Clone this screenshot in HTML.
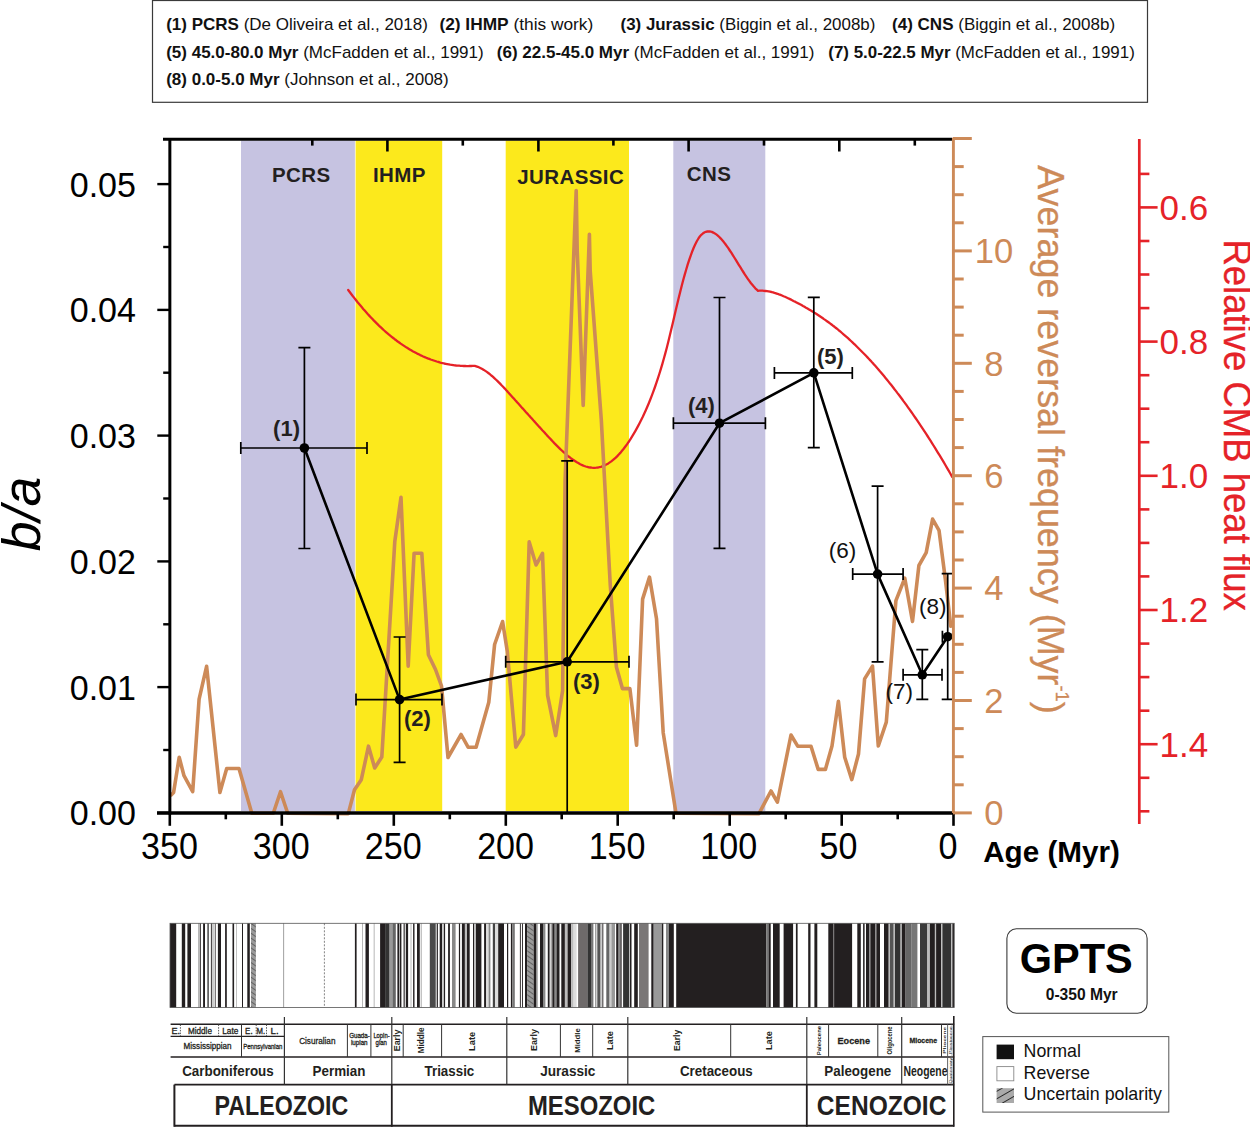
<!DOCTYPE html>
<html><head><meta charset="utf-8"><title>b/a vs age</title>
<style>
html,body{margin:0;padding:0;background:#fff;}
body{width:1250px;height:1127px;overflow:hidden;}
svg{display:block;font-family:"Liberation Sans", sans-serif;}
text{font-family:"Liberation Sans", sans-serif;}
</style></head><body>
<svg width="1250" height="1127" viewBox="0 0 1250 1127">
<rect width="1250" height="1127" fill="#fff"/>
<rect x="152.5" y="0.5" width="995" height="101.8" fill="none" stroke="#3a3a3a" stroke-width="1.2"/>
<text x="166.2" y="30.2" font-size="17" fill="#111"><tspan font-weight="bold">(1) PCRS</tspan><tspan xml:space="preserve"> (De Oliveira et al., 2018)</tspan></text>
<text x="439.4" y="30.2" font-size="17" fill="#111" textLength="153.9" lengthAdjust="spacingAndGlyphs"><tspan font-weight="bold">(2) IHMP</tspan><tspan xml:space="preserve"> (this work)</tspan></text>
<text x="620.5" y="30.2" font-size="17" fill="#111" textLength="254.9" lengthAdjust="spacingAndGlyphs"><tspan font-weight="bold">(3) Jurassic</tspan><tspan xml:space="preserve"> (Biggin et al., 2008b)</tspan></text>
<text x="892.1" y="30.2" font-size="17" fill="#111"><tspan font-weight="bold">(4) CNS</tspan><tspan xml:space="preserve"> (Biggin et al., 2008b)</tspan></text>
<text x="166.2" y="57.6" font-size="17" fill="#111"><tspan font-weight="bold">(5) 45.0-80.0 Myr</tspan><tspan xml:space="preserve"> (McFadden et al., 1991)</tspan></text>
<text x="496.8" y="57.6" font-size="17" fill="#111"><tspan font-weight="bold">(6) 22.5-45.0 Myr</tspan><tspan xml:space="preserve"> (McFadden et al., 1991)</tspan></text>
<text x="828.3" y="57.6" font-size="17" fill="#111" textLength="306.5" lengthAdjust="spacingAndGlyphs"><tspan font-weight="bold">(7) 5.0-22.5 Myr</tspan><tspan xml:space="preserve"> (McFadden et al., 1991)</tspan></text>
<text x="166.2" y="85.0" font-size="17" fill="#111"><tspan font-weight="bold">(8) 0.0-5.0 Myr</tspan><tspan xml:space="preserve"> (Johnson et al., 2008)</tspan></text>
<rect x="241.0" y="140.5" width="113.9" height="670.5" fill="#c6c3e1"/>
<rect x="355.6" y="140.5" width="86.6" height="670.5" fill="#fce91c"/>
<rect x="505.7" y="140.5" width="123.3" height="670.5" fill="#fce91c"/>
<rect x="673.3" y="140.5" width="92.0" height="670.5" fill="#c6c3e1"/>
<text x="272.0" y="182.2" font-size="20.5" font-weight="bold" fill="#231f20" letter-spacing="0.4">PCRS</text>
<text x="373.0" y="182.2" font-size="20.5" font-weight="bold" fill="#231f20" letter-spacing="0.4">IHMP</text>
<text x="517.3" y="183.8" font-size="20.5" font-weight="bold" fill="#231f20" letter-spacing="0.4">JURASSIC</text>
<text x="686.8" y="181.0" font-size="20.5" font-weight="bold" fill="#231f20" letter-spacing="0.4">CNS</text>
<path d="M348.2,290.0 L349.7,292.0 L351.2,294.0 L352.7,296.0 L354.2,297.9 L355.7,299.8 L357.2,301.7 L358.7,303.5 L360.2,305.3 L361.7,307.1 L363.2,308.9 L364.7,310.6 L366.2,312.3 L367.7,314.0 L369.2,315.6 L370.7,317.2 L372.2,318.8 L373.7,320.4 L375.2,321.9 L376.7,323.4 L378.2,324.9 L379.7,326.3 L381.2,327.7 L382.7,329.1 L384.2,330.5 L385.7,331.8 L387.2,333.1 L388.7,334.4 L390.2,335.6 L391.7,336.8 L393.2,338.0 L394.7,339.2 L396.2,340.3 L397.7,341.5 L399.2,342.5 L400.7,343.6 L402.2,344.6 L403.7,345.6 L405.2,346.6 L406.7,347.6 L408.2,348.5 L409.7,349.4 L411.2,350.3 L412.7,351.2 L414.2,352.0 L415.7,352.8 L417.2,353.6 L418.7,354.3 L420.2,355.1 L421.7,355.8 L423.2,356.5 L424.7,357.1 L426.2,357.7 L427.7,358.4 L429.2,358.9 L430.7,359.5 L432.2,360.0 L433.7,360.5 L435.2,361.0 L436.7,361.5 L438.2,361.9 L439.7,362.4 L441.2,362.8 L442.7,363.1 L444.2,363.5 L445.7,363.8 L447.2,364.1 L448.7,364.4 L450.2,364.7 L451.7,364.9 L453.2,365.1 L454.7,365.3 L456.2,365.5 L457.7,365.6 L459.2,365.7 L460.7,365.8 L462.2,365.9 L463.7,366.0 L465.2,366.0 L466.7,366.1 L468.2,366.1 L469.7,366.0 L471.2,366.0 L472.7,365.9 L474.2,365.8 L474.8,365.8 L476.3,366.3 L477.8,366.8 L479.3,367.5 L480.8,368.2 L482.3,369.0 L483.8,369.9 L485.3,370.9 L486.8,371.9 L488.3,373.0 L489.8,374.2 L491.3,375.5 L492.8,376.7 L494.3,378.1 L495.8,379.5 L497.3,380.9 L498.8,382.4 L500.3,383.9 L501.8,385.5 L503.3,387.0 L504.8,388.6 L506.3,390.3 L507.8,391.9 L509.3,393.6 L510.8,395.2 L512.3,396.9 L513.8,398.6 L515.3,400.3 L516.8,401.9 L518.3,403.6 L519.8,405.3 L521.3,407.0 L522.8,408.6 L524.3,410.3 L525.8,412.0 L527.3,413.6 L528.8,415.3 L530.3,416.9 L531.8,418.6 L533.3,420.3 L534.8,421.9 L536.3,423.6 L537.8,425.2 L539.3,426.9 L540.8,428.5 L542.3,430.2 L543.8,431.8 L545.3,433.4 L546.8,435.1 L548.3,436.7 L549.8,438.3 L551.3,439.9 L552.8,441.5 L554.3,443.1 L555.8,444.6 L557.3,446.1 L558.8,447.6 L560.3,449.1 L561.8,450.5 L563.3,451.9 L564.8,453.2 L566.3,454.5 L567.8,455.8 L569.3,457.0 L570.8,458.2 L572.3,459.3 L573.8,460.3 L575.3,461.3 L576.8,462.3 L578.3,463.1 L579.8,464.0 L581.3,464.7 L582.8,465.4 L584.3,466.0 L585.8,466.5 L587.3,466.9 L588.8,467.3 L590.3,467.5 L591.8,467.7 L593.3,467.8 L594.8,467.8 L596.3,467.7 L597.8,467.5 L599.3,467.2 L600.8,466.8 L602.3,466.3 L603.8,465.8 L605.3,465.1 L606.8,464.3 L608.3,463.4 L609.8,462.4 L611.3,461.4 L612.8,460.2 L614.3,458.9 L615.8,457.6 L617.3,456.1 L618.8,454.5 L620.3,452.9 L621.8,451.1 L623.3,449.3 L624.8,447.3 L626.3,445.3 L627.8,443.2 L629.3,441.0 L630.8,438.6 L632.3,436.2 L633.8,433.7 L635.3,431.1 L636.8,428.4 L638.3,425.6 L639.8,422.7 L641.3,419.7 L642.8,416.7 L644.3,413.5 L645.8,410.2 L647.3,406.7 L648.8,403.2 L650.3,399.5 L651.8,395.7 L653.3,391.7 L654.8,387.5 L656.3,383.2 L657.8,378.7 L659.3,374.0 L660.8,369.2 L662.3,364.1 L663.8,358.8 L665.3,353.4 L666.8,347.7 L668.3,341.7 L669.8,335.6 L671.3,329.3 L672.8,322.9 L674.3,316.5 L675.8,310.1 L677.3,303.7 L678.8,297.5 L680.3,291.4 L681.8,285.5 L683.3,279.8 L684.8,274.4 L686.3,269.2 L687.8,264.2 L689.3,259.6 L690.8,255.3 L692.3,251.2 L693.8,247.5 L695.3,244.2 L696.8,241.3 L698.3,238.7 L699.8,236.5 L701.3,234.8 L702.8,233.5 L704.3,232.5 L705.8,231.8 L707.3,231.5 L708.8,231.4 L710.3,231.5 L711.8,231.9 L713.3,232.6 L714.8,233.4 L716.3,234.4 L717.8,235.6 L719.3,237.0 L720.8,238.6 L722.3,240.3 L723.8,242.1 L725.3,244.0 L726.8,246.1 L728.3,248.2 L729.8,250.5 L731.3,252.7 L732.8,255.1 L734.3,257.5 L735.8,259.9 L737.3,262.4 L738.8,264.8 L740.3,267.2 L741.8,269.7 L743.3,272.0 L744.8,274.4 L746.3,276.6 L747.8,278.8 L749.3,280.9 L750.8,283.0 L752.3,284.8 L753.8,286.6 L755.3,288.3 L756.8,289.7 L758.0,290.8 L759.5,290.7 L761.0,290.7 L762.5,290.7 L764.0,290.8 L765.5,291.0 L767.0,291.2 L768.5,291.4 L770.0,291.7 L771.5,292.0 L773.0,292.4 L774.5,292.9 L776.0,293.3 L777.5,293.8 L779.0,294.4 L780.5,294.9 L782.0,295.5 L783.5,296.2 L785.0,296.8 L786.5,297.5 L788.0,298.2 L789.5,298.9 L791.0,299.6 L792.5,300.4 L794.0,301.2 L795.5,301.9 L797.0,302.7 L798.5,303.5 L800.0,304.3 L801.5,305.1 L803.0,306.0 L804.5,306.8 L806.0,307.7 L807.5,308.5 L809.0,309.4 L810.5,310.3 L812.0,311.2 L813.5,312.1 L815.0,313.1 L816.5,314.0 L818.0,315.0 L819.5,316.0 L821.0,317.0 L822.5,318.0 L824.0,319.1 L825.5,320.1 L827.0,321.2 L828.5,322.3 L830.0,323.4 L831.5,324.5 L833.0,325.7 L834.5,326.8 L836.0,328.0 L837.5,329.2 L839.0,330.5 L840.5,331.7 L842.0,333.0 L843.5,334.3 L845.0,335.6 L846.5,336.9 L848.0,338.2 L849.5,339.6 L851.0,341.0 L852.5,342.4 L854.0,343.8 L855.5,345.2 L857.0,346.7 L858.5,348.2 L860.0,349.7 L861.5,351.2 L863.0,352.7 L864.5,354.2 L866.0,355.8 L867.5,357.4 L869.0,359.0 L870.5,360.6 L872.0,362.3 L873.5,363.9 L875.0,365.6 L876.5,367.3 L878.0,369.0 L879.5,370.8 L881.0,372.5 L882.5,374.3 L884.0,376.1 L885.5,377.9 L887.0,379.7 L888.5,381.6 L890.0,383.5 L891.5,385.3 L893.0,387.2 L894.5,389.2 L896.0,391.1 L897.5,393.1 L899.0,395.0 L900.5,397.0 L902.0,399.0 L903.5,401.1 L905.0,403.1 L906.5,405.2 L908.0,407.3 L909.5,409.4 L911.0,411.5 L912.5,413.6 L914.0,415.8 L915.5,418.0 L917.0,420.2 L918.5,422.4 L920.0,424.6 L921.5,426.9 L923.0,429.1 L924.5,431.4 L926.0,433.7 L927.5,436.0 L929.0,438.4 L930.5,440.7 L932.0,443.1 L933.5,445.5 L935.0,447.9 L936.5,450.3 L938.0,452.8 L939.5,455.2 L941.0,457.7 L942.5,460.2 L944.0,462.7 L945.5,465.3 L947.0,467.8 L948.5,470.4 L950.0,473.0 L951.5,475.6 L952.2,476.8" fill="none" stroke="#e52228" stroke-width="2.3" stroke-linecap="round" stroke-linejoin="round"/>
<polyline points="171.2,794.9 173.6,792.5 179.2,757.3 184.0,775.7 192.7,791.7 199.1,699.1 206.6,666.3 219.9,792.5 226.7,768.5 239.0,768.5 251.8,813.3 273.3,813.3 280.5,791.7 287.7,813.3 348.3,813.6 354.5,789.7 361.3,779.7 368.5,746.2 374.7,768.0 381.8,757.1 394.8,541.4 401.0,497.3 408.2,666.1 414.1,553.2 421.8,553.2 428.4,654.7 435.5,669.5 441.5,686.0 448.0,757.5 461.1,734.5 468.1,747.2 476.1,747.2 488.8,702.2 494.6,644.5 502.6,621.5 507.3,651.5 515.8,747.2 523.4,734.5 529.2,541.9 536.1,565.0 542.5,553.4 547.6,695.3 555.7,735.6 562.6,690.7 565.1,480.0 576.2,190.6 577.2,250.0 583.2,405.5 589.4,234.3 590.2,271.0 601.3,419.8 610.3,585.5 616.4,666.9 622.4,688.6 629.9,688.6 636.6,745.3 642.6,599.1 649.5,577.1 656.5,618.7 663.2,732.7 676.0,813.3 759.0,813.6 771.0,791.0 777.4,802.2 791.0,735.0 797.7,746.2 811.0,746.2 818.2,769.4 825.4,769.4 832.0,746.0 838.4,701.3 844.7,757.2 851.8,779.6 858.5,754.0 864.6,678.9 872.5,666.1 878.3,746.0 886.3,722.1 895.9,600.6 904.8,578.2 912.5,621.4 918.9,565.5 926.2,552.7 932.6,519.1 939.0,530.3 945.4,579.8 950.8,626.2" fill="none" stroke="#cd8a58" stroke-width="3.6" stroke-linejoin="round" stroke-linecap="round"/>
<polyline points="304.4,448.0 399.6,699.6 567.2,661.8 719.5,423.2 813.8,372.9 877.6,574.1 922.3,674.8 947.7,636.7" fill="none" stroke="#000" stroke-width="2.6" stroke-linejoin="round"/>
<path d="M240.8,448.0 H367.0 M240.8,442.0 V454.0 M367.0,442.0 V454.0 M304.4,347.6 V548.5 M298.4,347.6 H310.4 M298.4,548.5 H310.4" stroke="#000" stroke-width="1.7" fill="none"/>
<circle cx="304.4" cy="448.0" r="4.8" fill="#000"/>
<text x="273.1" y="435.6" font-size="22" font-weight="bold" fill="#231f20">(1)</text>
<path d="M356.0,699.6 H442.0 M356.0,693.6 V705.6 M442.0,693.6 V705.6 M399.6,637.0 V762.4 M393.6,637.0 H405.6 M393.6,762.4 H405.6" stroke="#000" stroke-width="1.7" fill="none"/>
<circle cx="399.6" cy="699.6" r="4.8" fill="#000"/>
<text x="403.9" y="725.8" font-size="22" font-weight="bold" fill="#231f20">(2)</text>
<path d="M505.7,661.8 H629.0 M505.7,655.8 V667.8 M629.0,655.8 V667.8 M567.2,460.8 V813.0 M561.2,460.8 H573.2 M561.2,813.0 H573.2" stroke="#000" stroke-width="1.7" fill="none"/>
<circle cx="567.2" cy="661.8" r="4.8" fill="#000"/>
<text x="573.0" y="688.8" font-size="22" font-weight="bold" fill="#231f20">(3)</text>
<path d="M673.4,423.2 H765.4 M673.4,417.2 V429.2 M765.4,417.2 V429.2 M719.5,297.5 V548.3 M713.5,297.5 H725.5 M713.5,548.3 H725.5" stroke="#000" stroke-width="1.7" fill="none"/>
<circle cx="719.5" cy="423.2" r="4.8" fill="#000"/>
<text x="687.9" y="412.8" font-size="22" font-weight="bold" fill="#231f20">(4)</text>
<path d="M774.4,372.9 H852.3 M774.4,366.9 V378.9 M852.3,366.9 V378.9 M813.8,297.3 V447.7 M807.8,297.3 H819.8 M807.8,447.7 H819.8" stroke="#000" stroke-width="1.7" fill="none"/>
<circle cx="813.8" cy="372.9" r="4.8" fill="#000"/>
<text x="816.9" y="364.3" font-size="22" font-weight="bold" fill="#231f20">(5)</text>
<path d="M852.7,574.1 H903.1 M852.7,568.1 V580.1 M903.1,568.1 V580.1 M877.6,486.2 V661.8 M871.6,486.2 H883.6 M871.6,661.8 H883.6" stroke="#000" stroke-width="1.7" fill="none"/>
<circle cx="877.6" cy="574.1" r="4.8" fill="#000"/>
<text x="828.7" y="557.7" font-size="22.5" fill="#111">(6)</text>
<path d="M903.1,674.8 H942.0 M903.1,668.8 V680.8 M942.0,668.8 V680.8 M922.3,649.6 V699.4 M916.3,649.6 H928.3 M916.3,699.4 H928.3" stroke="#000" stroke-width="1.7" fill="none"/>
<circle cx="922.3" cy="674.8" r="4.8" fill="#000"/>
<text x="885.4" y="699.2" font-size="22.5" fill="#111">(7)</text>
<path d="M942.4,636.7 H953.1 M942.4,630.7 V642.7 M953.1,630.7 V642.7 M947.7,573.6 V699.4 M941.7,573.6 H953.7 M941.7,699.4 H953.7" stroke="#000" stroke-width="1.7" fill="none"/>
<circle cx="947.7" cy="636.7" r="4.8" fill="#000"/>
<text x="919.0" y="613.8" font-size="22.5" fill="#111">(8)</text>
<line x1="169.85" y1="138" x2="169.85" y2="814.5" stroke="#000" stroke-width="3"/>
<line x1="163" y1="139.3" x2="952.2" y2="139.3" stroke="#000" stroke-width="3"/>
<line x1="157" y1="813" x2="954.8" y2="813" stroke="#000" stroke-width="3.4"/>
<line x1="157.3" y1="812.9" x2="170" y2="812.9" stroke="#000" stroke-width="2.4"/>
<line x1="163.2" y1="750.0" x2="170" y2="750.0" stroke="#000" stroke-width="2.4"/>
<line x1="157.3" y1="687.1" x2="170" y2="687.1" stroke="#000" stroke-width="2.4"/>
<line x1="163.2" y1="624.3" x2="170" y2="624.3" stroke="#000" stroke-width="2.4"/>
<line x1="157.3" y1="561.4" x2="170" y2="561.4" stroke="#000" stroke-width="2.4"/>
<line x1="163.2" y1="498.5" x2="170" y2="498.5" stroke="#000" stroke-width="2.4"/>
<line x1="157.3" y1="435.6" x2="170" y2="435.6" stroke="#000" stroke-width="2.4"/>
<line x1="163.2" y1="372.7" x2="170" y2="372.7" stroke="#000" stroke-width="2.4"/>
<line x1="157.3" y1="309.9" x2="170" y2="309.9" stroke="#000" stroke-width="2.4"/>
<line x1="163.2" y1="247.0" x2="170" y2="247.0" stroke="#000" stroke-width="2.4"/>
<line x1="157.3" y1="184.1" x2="170" y2="184.1" stroke="#000" stroke-width="2.4"/>
<text x="136.0" y="825.4" font-size="35.8" text-anchor="end" textLength="66.3" lengthAdjust="spacingAndGlyphs" fill="#000">0.00</text>
<text x="136.0" y="699.6" font-size="35.8" text-anchor="end" textLength="66.3" lengthAdjust="spacingAndGlyphs" fill="#000">0.01</text>
<text x="136.0" y="573.9" font-size="35.8" text-anchor="end" textLength="66.3" lengthAdjust="spacingAndGlyphs" fill="#000">0.02</text>
<text x="136.0" y="448.1" font-size="35.8" text-anchor="end" textLength="66.3" lengthAdjust="spacingAndGlyphs" fill="#000">0.03</text>
<text x="136.0" y="322.4" font-size="35.8" text-anchor="end" textLength="66.3" lengthAdjust="spacingAndGlyphs" fill="#000">0.04</text>
<text x="136.0" y="196.6" font-size="35.8" text-anchor="end" textLength="66.3" lengthAdjust="spacingAndGlyphs" fill="#000">0.05</text>
<line x1="169.8" y1="813" x2="169.8" y2="825.8" stroke="#000" stroke-width="2.6"/>
<line x1="225.8" y1="813" x2="225.8" y2="819.3" stroke="#000" stroke-width="2.6"/>
<line x1="281.8" y1="813" x2="281.8" y2="825.8" stroke="#000" stroke-width="2.6"/>
<line x1="337.8" y1="813" x2="337.8" y2="819.3" stroke="#000" stroke-width="2.6"/>
<line x1="393.8" y1="813" x2="393.8" y2="825.8" stroke="#000" stroke-width="2.6"/>
<line x1="449.8" y1="813" x2="449.8" y2="819.3" stroke="#000" stroke-width="2.6"/>
<line x1="505.8" y1="813" x2="505.8" y2="825.8" stroke="#000" stroke-width="2.6"/>
<line x1="561.7" y1="813" x2="561.7" y2="819.3" stroke="#000" stroke-width="2.6"/>
<line x1="617.7" y1="813" x2="617.7" y2="825.8" stroke="#000" stroke-width="2.6"/>
<line x1="673.7" y1="813" x2="673.7" y2="819.3" stroke="#000" stroke-width="2.6"/>
<line x1="729.7" y1="813" x2="729.7" y2="825.8" stroke="#000" stroke-width="2.6"/>
<line x1="785.7" y1="813" x2="785.7" y2="819.3" stroke="#000" stroke-width="2.6"/>
<line x1="841.7" y1="813" x2="841.7" y2="825.8" stroke="#000" stroke-width="2.6"/>
<line x1="897.7" y1="813" x2="897.7" y2="819.3" stroke="#000" stroke-width="2.6"/>
<line x1="953.5" y1="813" x2="953.5" y2="825.8" stroke="#000" stroke-width="2.6"/>
<text x="169.5" y="858.8" font-size="36" text-anchor="middle" textLength="56.9" lengthAdjust="spacingAndGlyphs" fill="#000">350</text>
<text x="281.2" y="858.8" font-size="36" text-anchor="middle" textLength="56.9" lengthAdjust="spacingAndGlyphs" fill="#000">300</text>
<text x="393.2" y="858.8" font-size="36" text-anchor="middle" textLength="56.9" lengthAdjust="spacingAndGlyphs" fill="#000">250</text>
<text x="505.6" y="858.8" font-size="36" text-anchor="middle" textLength="56.9" lengthAdjust="spacingAndGlyphs" fill="#000">200</text>
<text x="617.1" y="858.8" font-size="36" text-anchor="middle" textLength="56.9" lengthAdjust="spacingAndGlyphs" fill="#000">150</text>
<text x="728.8" y="858.8" font-size="36" text-anchor="middle" textLength="56.9" lengthAdjust="spacingAndGlyphs" fill="#000">100</text>
<text x="838.4" y="858.8" font-size="36" text-anchor="middle" textLength="37.9" lengthAdjust="spacingAndGlyphs" fill="#000">50</text>
<text x="948.0" y="858.8" font-size="36" text-anchor="middle" textLength="19.0" lengthAdjust="spacingAndGlyphs" fill="#000">0</text>
<line x1="312.3" y1="139" x2="312.3" y2="145.6" stroke="#000" stroke-width="2.6"/>
<line x1="387.4" y1="139" x2="387.4" y2="151.5" stroke="#000" stroke-width="2.6"/>
<line x1="462.8" y1="139" x2="462.8" y2="145.6" stroke="#000" stroke-width="2.6"/>
<line x1="538.4" y1="139" x2="538.4" y2="151.5" stroke="#000" stroke-width="2.6"/>
<line x1="613.4" y1="139" x2="613.4" y2="145.6" stroke="#000" stroke-width="2.6"/>
<line x1="688.6" y1="139" x2="688.6" y2="151.5" stroke="#000" stroke-width="2.6"/>
<line x1="764.0" y1="139" x2="764.0" y2="145.6" stroke="#000" stroke-width="2.6"/>
<line x1="839.3" y1="139" x2="839.3" y2="151.5" stroke="#000" stroke-width="2.6"/>
<line x1="914.8" y1="139" x2="914.8" y2="145.6" stroke="#000" stroke-width="2.6"/>
<text x="983.2" y="862.2" font-size="29" font-weight="bold" textLength="136.6" lengthAdjust="spacingAndGlyphs" fill="#000">Age (Myr)</text>
<line x1="953.4" y1="137.8" x2="953.4" y2="813" stroke="#cd8a58" stroke-width="2.9"/>
<line x1="953" y1="812.9" x2="971.8" y2="812.9" stroke="#cd8a58" stroke-width="3"/>
<line x1="953" y1="784.8" x2="963.7" y2="784.8" stroke="#cd8a58" stroke-width="3"/>
<line x1="953" y1="756.7" x2="963.7" y2="756.7" stroke="#cd8a58" stroke-width="3"/>
<line x1="953" y1="728.6" x2="963.7" y2="728.6" stroke="#cd8a58" stroke-width="3"/>
<line x1="953" y1="700.5" x2="971.8" y2="700.5" stroke="#cd8a58" stroke-width="3"/>
<line x1="953" y1="672.4" x2="963.7" y2="672.4" stroke="#cd8a58" stroke-width="3"/>
<line x1="953" y1="644.3" x2="963.7" y2="644.3" stroke="#cd8a58" stroke-width="3"/>
<line x1="953" y1="616.2" x2="963.7" y2="616.2" stroke="#cd8a58" stroke-width="3"/>
<line x1="953" y1="588.1" x2="971.8" y2="588.1" stroke="#cd8a58" stroke-width="3"/>
<line x1="953" y1="560.0" x2="963.7" y2="560.0" stroke="#cd8a58" stroke-width="3"/>
<line x1="953" y1="531.9" x2="963.7" y2="531.9" stroke="#cd8a58" stroke-width="3"/>
<line x1="953" y1="503.8" x2="963.7" y2="503.8" stroke="#cd8a58" stroke-width="3"/>
<line x1="953" y1="475.7" x2="971.8" y2="475.7" stroke="#cd8a58" stroke-width="3"/>
<line x1="953" y1="447.6" x2="963.7" y2="447.6" stroke="#cd8a58" stroke-width="3"/>
<line x1="953" y1="419.5" x2="963.7" y2="419.5" stroke="#cd8a58" stroke-width="3"/>
<line x1="953" y1="391.4" x2="963.7" y2="391.4" stroke="#cd8a58" stroke-width="3"/>
<line x1="953" y1="363.3" x2="971.8" y2="363.3" stroke="#cd8a58" stroke-width="3"/>
<line x1="953" y1="335.2" x2="963.7" y2="335.2" stroke="#cd8a58" stroke-width="3"/>
<line x1="953" y1="307.1" x2="963.7" y2="307.1" stroke="#cd8a58" stroke-width="3"/>
<line x1="953" y1="279.0" x2="963.7" y2="279.0" stroke="#cd8a58" stroke-width="3"/>
<line x1="953" y1="250.9" x2="971.8" y2="250.9" stroke="#cd8a58" stroke-width="3"/>
<line x1="953" y1="222.8" x2="963.7" y2="222.8" stroke="#cd8a58" stroke-width="3"/>
<line x1="953" y1="194.7" x2="963.7" y2="194.7" stroke="#cd8a58" stroke-width="3"/>
<line x1="953" y1="166.6" x2="963.7" y2="166.6" stroke="#cd8a58" stroke-width="3"/>
<line x1="953" y1="138.5" x2="971.8" y2="138.5" stroke="#cd8a58" stroke-width="3"/>
<text x="993.9" y="825.1" font-size="34.6" text-anchor="middle" fill="#cd8a58">0</text>
<text x="993.9" y="712.7" font-size="34.6" text-anchor="middle" fill="#cd8a58">2</text>
<text x="993.9" y="600.3" font-size="34.6" text-anchor="middle" fill="#cd8a58">4</text>
<text x="993.9" y="487.9" font-size="34.6" text-anchor="middle" fill="#cd8a58">6</text>
<text x="993.9" y="375.5" font-size="34.6" text-anchor="middle" fill="#cd8a58">8</text>
<text x="993.9" y="263.1" font-size="34.6" text-anchor="middle" fill="#cd8a58">10</text>
<text transform="translate(1038.4,165.3) rotate(90)" font-size="37.3" textLength="548.4" lengthAdjust="spacingAndGlyphs" fill="#cd8a58" stroke="#cd8a58" stroke-width="0.3">Average reversal frequency (Myr<tspan font-size="19" dy="-17.4">-1</tspan><tspan dy="17.4">)</tspan></text>
<line x1="1139.3" y1="139" x2="1139.3" y2="824" stroke="#e52228" stroke-width="2.7"/>
<line x1="1138.5" y1="140.3" x2="1139.3" y2="140.3" stroke="#e52228" stroke-width="2.6"/>
<line x1="1138.5" y1="173.9" x2="1149.4" y2="173.9" stroke="#e52228" stroke-width="2.6"/>
<line x1="1138.5" y1="207.4" x2="1157.6" y2="207.4" stroke="#e52228" stroke-width="2.6"/>
<line x1="1138.5" y1="241.0" x2="1149.4" y2="241.0" stroke="#e52228" stroke-width="2.6"/>
<line x1="1138.5" y1="274.5" x2="1149.4" y2="274.5" stroke="#e52228" stroke-width="2.6"/>
<line x1="1138.5" y1="308.1" x2="1149.4" y2="308.1" stroke="#e52228" stroke-width="2.6"/>
<line x1="1138.5" y1="341.6" x2="1157.6" y2="341.6" stroke="#e52228" stroke-width="2.6"/>
<line x1="1138.5" y1="375.2" x2="1149.4" y2="375.2" stroke="#e52228" stroke-width="2.6"/>
<line x1="1138.5" y1="408.7" x2="1149.4" y2="408.7" stroke="#e52228" stroke-width="2.6"/>
<line x1="1138.5" y1="442.2" x2="1149.4" y2="442.2" stroke="#e52228" stroke-width="2.6"/>
<line x1="1138.5" y1="475.8" x2="1157.6" y2="475.8" stroke="#e52228" stroke-width="2.6"/>
<line x1="1138.5" y1="509.4" x2="1149.4" y2="509.4" stroke="#e52228" stroke-width="2.6"/>
<line x1="1138.5" y1="542.9" x2="1149.4" y2="542.9" stroke="#e52228" stroke-width="2.6"/>
<line x1="1138.5" y1="576.4" x2="1149.4" y2="576.4" stroke="#e52228" stroke-width="2.6"/>
<line x1="1138.5" y1="610.0" x2="1157.6" y2="610.0" stroke="#e52228" stroke-width="2.6"/>
<line x1="1138.5" y1="643.6" x2="1149.4" y2="643.6" stroke="#e52228" stroke-width="2.6"/>
<line x1="1138.5" y1="677.1" x2="1149.4" y2="677.1" stroke="#e52228" stroke-width="2.6"/>
<line x1="1138.5" y1="710.7" x2="1149.4" y2="710.7" stroke="#e52228" stroke-width="2.6"/>
<line x1="1138.5" y1="744.2" x2="1157.6" y2="744.2" stroke="#e52228" stroke-width="2.6"/>
<line x1="1138.5" y1="777.8" x2="1149.4" y2="777.8" stroke="#e52228" stroke-width="2.6"/>
<line x1="1138.5" y1="811.3" x2="1149.4" y2="811.3" stroke="#e52228" stroke-width="2.6"/>
<text x="1159.6" y="219.7" font-size="35" fill="#e52228">0.6</text>
<text x="1159.6" y="353.9" font-size="35" fill="#e52228">0.8</text>
<text x="1159.6" y="488.1" font-size="35" fill="#e52228">1.0</text>
<text x="1159.6" y="622.3" font-size="35" fill="#e52228">1.2</text>
<text x="1159.6" y="756.5" font-size="35" fill="#e52228">1.4</text>
<text transform="translate(1223.7,239.4) rotate(90)" font-size="38" textLength="371.3" lengthAdjust="spacingAndGlyphs" fill="#e52228" stroke="#e52228" stroke-width="0.3">Relative CMB heat flux</text>
<text transform="translate(39.8,551.2) rotate(-90)" font-size="54" textLength="74.6" lengthAdjust="spacingAndGlyphs" font-style="italic" fill="#000">b/a</text>
<defs><pattern id="hatch" width="4" height="4" patternUnits="userSpaceOnUse" patternTransform="rotate(35)"><rect width="4" height="4" fill="#9a9a9a"/><line x1="0" y1="0" x2="4" y2="0" stroke="#333" stroke-width="1.1"/></pattern><pattern id="hatch2" width="6.5" height="6.5" patternUnits="userSpaceOnUse" patternTransform="rotate(-30)"><rect width="6.5" height="6.5" fill="#aaa"/><line x1="0" y1="0" x2="6.5" y2="0" stroke="#222" stroke-width="1.8"/></pattern></defs>
<rect x="170" y="923.3" width="784.2" height="84.2" fill="#fff"/>
<rect x="170" y="923.3" width="6.20" height="84.2" fill="#231f20"/>
<rect x="181.8" y="923.3" width="3.40" height="84.2" fill="#231f20"/>
<rect x="187.4" y="923.3" width="3.60" height="84.2" fill="#231f20"/>
<rect x="198.2" y="923.3" width="0.60" height="84.2" fill="#888"/>
<rect x="199.7" y="923.3" width="1.10" height="84.2" fill="#231f20"/>
<rect x="203.1" y="923.3" width="1.90" height="84.2" fill="#231f20"/>
<rect x="207.3" y="923.3" width="1.60" height="84.2" fill="#555"/>
<rect x="210.9" y="923.3" width="0.90" height="84.2" fill="#231f20"/>
<rect x="212" y="923.3" width="2.80" height="84.2" fill="#ccc"/>
<rect x="215.4" y="923.3" width="0.60" height="84.2" fill="#231f20"/>
<rect x="217.9" y="923.3" width="3.10" height="84.2" fill="#231f20"/>
<rect x="225.1" y="923.3" width="1.70" height="84.2" fill="#231f20"/>
<rect x="232.5" y="923.3" width="1.60" height="84.2" fill="#231f20"/>
<rect x="236" y="923.3" width="0.60" height="84.2" fill="#999"/>
<rect x="242" y="923.3" width="1.00" height="84.2" fill="#231f20"/>
<rect x="247.3" y="923.3" width="2.50" height="84.2" fill="#231f20"/>
<rect x="283.3" y="923.3" width="0.80" height="84.2" fill="#888"/>
<rect x="354.9" y="923.3" width="1.70" height="84.2" fill="#231f20"/>
<rect x="362.1" y="923.3" width="0.60" height="84.2" fill="#888"/>
<rect x="365.5" y="923.3" width="3.40" height="84.2" fill="#231f20"/>
<rect x="373.8" y="923.3" width="0.60" height="84.2" fill="#888"/>
<rect x="380.1" y="923.3" width="5.00" height="84.2" fill="#231f20"/>
<rect x="385.1" y="923.3" width="4.50" height="84.2" fill="#333"/>
<rect x="389.6" y="923.3" width="2.80" height="84.2" fill="#999"/>
<rect x="392.4" y="923.3" width="3.40" height="84.2" fill="#666"/>
<rect x="397.4" y="923.3" width="1.70" height="84.2" fill="#231f20"/>
<rect x="399.7" y="923.3" width="1.70" height="84.2" fill="#231f20"/>
<rect x="403.6" y="923.3" width="1.10" height="84.2" fill="#231f20"/>
<rect x="405.8" y="923.3" width="2.30" height="84.2" fill="#231f20"/>
<rect x="410.7" y="923.3" width="0.60" height="84.2" fill="#888"/>
<rect x="413.1" y="923.3" width="1.40" height="84.2" fill="#231f20"/>
<rect x="417" y="923.3" width="2.80" height="84.2" fill="#231f20"/>
<rect x="420.8" y="923.3" width="0.70" height="84.2" fill="#888"/>
<rect x="429.8" y="923.3" width="6.00" height="84.2" fill="#4a4a4a"/>
<rect x="435.8" y="923.3" width="1.20" height="84.2" fill="#bbb"/>
<rect x="437" y="923.3" width="0.90" height="84.2" fill="#231f20"/>
<rect x="439.7" y="923.3" width="2.40" height="84.2" fill="#231f20"/>
<rect x="442.1" y="923.3" width="1.80" height="84.2" fill="#ccc"/>
<rect x="443.9" y="923.3" width="1.20" height="84.2" fill="#231f20"/>
<rect x="448.1" y="923.3" width="1.80" height="84.2" fill="#231f20"/>
<rect x="452" y="923.3" width="3.60" height="84.2" fill="#888"/>
<rect x="458.9" y="923.3" width="1.20" height="84.2" fill="#231f20"/>
<rect x="461.9" y="923.3" width="3.00" height="84.2" fill="#231f20"/>
<rect x="464.9" y="923.3" width="2.10" height="84.2" fill="#bbb"/>
<rect x="467" y="923.3" width="2.70" height="84.2" fill="#231f20"/>
<rect x="473" y="923.3" width="1.20" height="84.2" fill="#231f20"/>
<rect x="474.2" y="923.3" width="1.80" height="84.2" fill="#bbb"/>
<rect x="476" y="923.3" width="5.40" height="84.2" fill="#231f20"/>
<rect x="484.1" y="923.3" width="2.10" height="84.2" fill="#231f20"/>
<rect x="486.2" y="923.3" width="2.40" height="84.2" fill="#ddd"/>
<rect x="488.6" y="923.3" width="1.80" height="84.2" fill="#888"/>
<rect x="492.8" y="923.3" width="2.40" height="84.2" fill="#444"/>
<rect x="495.2" y="923.3" width="3.00" height="84.2" fill="#ddd"/>
<rect x="498.2" y="923.3" width="5.80" height="84.2" fill="#231f20"/>
<rect x="507" y="923.3" width="1.20" height="84.2" fill="#231f20"/>
<rect x="510.9" y="923.3" width="1.50" height="84.2" fill="#231f20"/>
<rect x="512.4" y="923.3" width="2.40" height="84.2" fill="#777"/>
<rect x="519.9" y="923.3" width="0.90" height="84.2" fill="#231f20"/>
<rect x="522" y="923.3" width="0.90" height="84.2" fill="#231f20"/>
<rect x="525" y="923.3" width="2.10" height="84.2" fill="#231f20"/>
<rect x="533.4" y="923.3" width="3.00" height="84.2" fill="#231f20"/>
<rect x="536.4" y="923.3" width="1.20" height="84.2" fill="#888"/>
<rect x="540" y="923.3" width="3.00" height="84.2" fill="#231f20"/>
<rect x="543" y="923.3" width="2.40" height="84.2" fill="#888"/>
<rect x="547.8" y="923.3" width="1.80" height="84.2" fill="#231f20"/>
<rect x="550.8" y="923.3" width="0.60" height="84.2" fill="#231f20"/>
<rect x="552.3" y="923.3" width="2.40" height="84.2" fill="#231f20"/>
<rect x="554.7" y="923.3" width="1.80" height="84.2" fill="#888"/>
<rect x="556.5" y="923.3" width="3.00" height="84.2" fill="#231f20"/>
<rect x="561.3" y="923.3" width="3.60" height="84.2" fill="#231f20"/>
<rect x="564.9" y="923.3" width="2.70" height="84.2" fill="#bbb"/>
<rect x="567.6" y="923.3" width="3.60" height="84.2" fill="#231f20"/>
<rect x="571.2" y="923.3" width="2.40" height="84.2" fill="#bbb"/>
<rect x="573.6" y="923.3" width="3.00" height="84.2" fill="#ddd"/>
<rect x="578.1" y="923.3" width="9.30" height="84.2" fill="#6e6a6a"/>
<rect x="587.4" y="923.3" width="3.60" height="84.2" fill="#333"/>
<rect x="591" y="923.3" width="2.40" height="84.2" fill="#777"/>
<rect x="595.2" y="923.3" width="1.20" height="84.2" fill="#888"/>
<rect x="597.3" y="923.3" width="3.30" height="84.2" fill="#555"/>
<rect x="600.6" y="923.3" width="1.80" height="84.2" fill="#ccc"/>
<rect x="602.4" y="923.3" width="0.90" height="84.2" fill="#231f20"/>
<rect x="606.3" y="923.3" width="3.30" height="84.2" fill="#666"/>
<rect x="609.6" y="923.3" width="1.80" height="84.2" fill="#ccc"/>
<rect x="611.4" y="923.3" width="3.60" height="84.2" fill="#999"/>
<rect x="616.2" y="923.3" width="2.40" height="84.2" fill="#231f20"/>
<rect x="618.6" y="923.3" width="1.80" height="84.2" fill="#888"/>
<rect x="620.4" y="923.3" width="1.20" height="84.2" fill="#231f20"/>
<rect x="623.1" y="923.3" width="6.30" height="84.2" fill="#333"/>
<rect x="629.4" y="923.3" width="0.60" height="84.2" fill="#ccc"/>
<rect x="630" y="923.3" width="1.50" height="84.2" fill="#231f20"/>
<rect x="634.2" y="923.3" width="3.60" height="84.2" fill="#231f20"/>
<rect x="639" y="923.3" width="9.60" height="84.2" fill="#7a7777"/>
<rect x="651.3" y="923.3" width="2.40" height="84.2" fill="#231f20"/>
<rect x="653.7" y="923.3" width="8.10" height="84.2" fill="#999"/>
<rect x="661.8" y="923.3" width="1.50" height="84.2" fill="#231f20"/>
<rect x="666" y="923.3" width="3.00" height="84.2" fill="#888"/>
<rect x="669" y="923.3" width="4.80" height="84.2" fill="#231f20"/>
<rect x="676.2" y="923.3" width="90.00" height="84.2" fill="#231f20"/>
<rect x="766.2" y="923.3" width="2.30" height="84.2" fill="#777"/>
<rect x="768.5" y="923.3" width="2.20" height="84.2" fill="#231f20"/>
<rect x="773" y="923.3" width="6.70" height="84.2" fill="#231f20"/>
<rect x="783.6" y="923.3" width="9.50" height="84.2" fill="#231f20"/>
<rect x="795.9" y="923.3" width="1.70" height="84.2" fill="#231f20"/>
<rect x="808.2" y="923.3" width="2.30" height="84.2" fill="#231f20"/>
<rect x="814.4" y="923.3" width="2.90" height="84.2" fill="#231f20"/>
<rect x="828.3" y="923.3" width="5.30" height="84.2" fill="#231f20"/>
<rect x="834.1" y="923.3" width="18.00" height="84.2" fill="#231f20"/>
<rect x="857.3" y="923.3" width="3.50" height="84.2" fill="#231f20"/>
<rect x="863.1" y="923.3" width="1.50" height="84.2" fill="#231f20"/>
<rect x="866" y="923.3" width="3.50" height="84.2" fill="#231f20"/>
<rect x="870.3" y="923.3" width="5.20" height="84.2" fill="#231f20"/>
<rect x="876.3" y="923.3" width="3.70" height="84.2" fill="#231f20"/>
<rect x="884" y="923.3" width="4.70" height="84.2" fill="#231f20"/>
<rect x="888.7" y="923.3" width="1.30" height="84.2" fill="#bbb"/>
<rect x="890" y="923.3" width="3.70" height="84.2" fill="#555"/>
<rect x="893.7" y="923.3" width="1.30" height="84.2" fill="#bbb"/>
<rect x="895" y="923.3" width="5.60" height="84.2" fill="#333"/>
<rect x="900.6" y="923.3" width="1.20" height="84.2" fill="#bbb"/>
<rect x="901.8" y="923.3" width="3.80" height="84.2" fill="#231f20"/>
<rect x="905.6" y="923.3" width="5.60" height="84.2" fill="#666"/>
<rect x="911.2" y="923.3" width="6.20" height="84.2" fill="#777"/>
<rect x="920" y="923.3" width="7.40" height="84.2" fill="#3a3a3a"/>
<rect x="927.4" y="923.3" width="2.50" height="84.2" fill="#bbb"/>
<rect x="929.9" y="923.3" width="5.00" height="84.2" fill="#231f20"/>
<rect x="934.9" y="923.3" width="1.20" height="84.2" fill="#bbb"/>
<rect x="936.1" y="923.3" width="5.00" height="84.2" fill="#231f20"/>
<rect x="941.1" y="923.3" width="1.30" height="84.2" fill="#bbb"/>
<rect x="942.4" y="923.3" width="8.70" height="84.2" fill="#333"/>
<rect x="951.1" y="923.3" width="1.30" height="84.2" fill="#bbb"/>
<rect x="952.4" y="923.3" width="1.80" height="84.2" fill="#231f20"/>
<rect x="251" y="923.3" width="4.9" height="84.2" fill="url(#hatch)"/>
<rect x="527.1" y="923.3" width="6.3" height="84.2" fill="url(#hatch)"/>
<line x1="324.4" y1="923.3" x2="324.4" y2="1007.5" stroke="#777" stroke-width="0.9" stroke-dasharray="2,1.5"/>
<rect x="170" y="923.3" width="784.2" height="84.2" fill="none" stroke="#555" stroke-width="0.8"/>
<line x1="170.6" y1="1024.2" x2="954.2" y2="1024.2" stroke="#231f20" stroke-width="1.6"/>
<line x1="170.6" y1="1036.4" x2="284.4" y2="1036.4" stroke="#231f20" stroke-width="1.1"/>
<line x1="170.6" y1="1057.0" x2="954.2" y2="1057.0" stroke="#231f20" stroke-width="1.3"/>
<line x1="174.4" y1="1084.6" x2="954.2" y2="1084.6" stroke="#231f20" stroke-width="1.9"/>
<line x1="174.4" y1="1125.8" x2="954.2" y2="1125.8" stroke="#231f20" stroke-width="2.0"/>
<line x1="174.4" y1="1084.6" x2="174.4" y2="1126.8" stroke="#231f20" stroke-width="2.0"/>
<line x1="953.8" y1="1016.1" x2="953.8" y2="1126.8" stroke="#231f20" stroke-width="1.6"/>
<line x1="284.4" y1="1017.0" x2="284.4" y2="1084.6" stroke="#333" stroke-width="1.2"/>
<line x1="391.8" y1="1017.0" x2="391.8" y2="1084.6" stroke="#333" stroke-width="1.2"/>
<line x1="506.8" y1="1017.0" x2="506.8" y2="1084.6" stroke="#333" stroke-width="1.2"/>
<line x1="627.8" y1="1017.0" x2="627.8" y2="1084.6" stroke="#333" stroke-width="1.2"/>
<line x1="806.8" y1="1017.0" x2="806.8" y2="1084.6" stroke="#333" stroke-width="1.2"/>
<line x1="901.7" y1="1017.0" x2="901.7" y2="1084.6" stroke="#333" stroke-width="1.2"/>
<line x1="391.8" y1="1084.6" x2="391.8" y2="1126.8" stroke="#231f20" stroke-width="1.8"/>
<line x1="806.8" y1="1084.6" x2="806.8" y2="1126.8" stroke="#231f20" stroke-width="1.8"/>
<line x1="241.5" y1="1024.2" x2="241.5" y2="1057.0" stroke="#333" stroke-width="1.0"/>
<line x1="347.4" y1="1024.2" x2="347.4" y2="1057.0" stroke="#333" stroke-width="1.0"/>
<line x1="370.9" y1="1024.2" x2="370.9" y2="1057.0" stroke="#333" stroke-width="1.0"/>
<line x1="403.2" y1="1024.2" x2="403.2" y2="1057.0" stroke="#333" stroke-width="1.0"/>
<line x1="441.6" y1="1024.2" x2="441.6" y2="1057.0" stroke="#333" stroke-width="1.0"/>
<line x1="560.4" y1="1024.2" x2="560.4" y2="1057.0" stroke="#333" stroke-width="1.0"/>
<line x1="592.7" y1="1024.2" x2="592.7" y2="1057.0" stroke="#333" stroke-width="1.0"/>
<line x1="730.7" y1="1024.2" x2="730.7" y2="1057.0" stroke="#333" stroke-width="1.0"/>
<line x1="828.6" y1="1024.2" x2="828.6" y2="1057.0" stroke="#333" stroke-width="1.0"/>
<line x1="877.8" y1="1024.2" x2="877.8" y2="1057.0" stroke="#333" stroke-width="1.0"/>
<line x1="941.5" y1="1024.2" x2="941.5" y2="1057.0" stroke="#333" stroke-width="1.0"/>
<line x1="947.6" y1="1024.2" x2="947.6" y2="1084.6" stroke="#555" stroke-width="0.9"/>
<line x1="952.0" y1="1024.2" x2="952.0" y2="1084.6" stroke="#777" stroke-width="0.6"/>
<line x1="180.4" y1="1024.5" x2="180.4" y2="1036" stroke="#444" stroke-width="0.9" stroke-dasharray="1.5,1.2"/>
<line x1="218.6" y1="1024.5" x2="218.6" y2="1036" stroke="#444" stroke-width="0.9" stroke-dasharray="1.5,1.2"/>
<line x1="256.2" y1="1024.5" x2="256.2" y2="1036" stroke="#444" stroke-width="0.9" stroke-dasharray="1.5,1.2"/>
<line x1="266.5" y1="1024.5" x2="266.5" y2="1036" stroke="#444" stroke-width="0.9" stroke-dasharray="1.5,1.2"/>
<text x="175.70" y="1033.7" font-size="8.3" text-anchor="middle" textLength="8.60" lengthAdjust="spacingAndGlyphs" fill="#231f20" stroke="#231f20" stroke-width="0.3">E.</text>
<text x="199.95" y="1033.7" font-size="8.3" text-anchor="middle" textLength="23.90" lengthAdjust="spacingAndGlyphs" fill="#231f20" stroke="#231f20" stroke-width="0.3">Middle</text>
<text x="230.25" y="1033.7" font-size="8.3" text-anchor="middle" textLength="16.10" lengthAdjust="spacingAndGlyphs" fill="#231f20" stroke="#231f20" stroke-width="0.3">Late</text>
<text x="248.85" y="1033.7" font-size="8.3" text-anchor="middle" textLength="7.50" lengthAdjust="spacingAndGlyphs" fill="#231f20" stroke="#231f20" stroke-width="0.3">E.</text>
<text x="260.80" y="1033.7" font-size="8.3" text-anchor="middle" textLength="8.60" lengthAdjust="spacingAndGlyphs" fill="#231f20" stroke="#231f20" stroke-width="0.3">M.</text>
<text x="274.55" y="1033.7" font-size="8.3" text-anchor="middle" textLength="8.10" lengthAdjust="spacingAndGlyphs" fill="#231f20" stroke="#231f20" stroke-width="0.3">L.</text>
<text x="207.55" y="1049.3" font-size="8.4" text-anchor="middle" textLength="47.91" lengthAdjust="spacingAndGlyphs" fill="#231f20" stroke="#231f20" stroke-width="0.3">Mississippian</text>
<text x="262.80" y="1049.3" font-size="7.5" text-anchor="middle" textLength="39.30" lengthAdjust="spacingAndGlyphs" fill="#231f20" stroke="#231f20" stroke-width="0.3">Pennsylvanian</text>
<text x="317.30" y="1043.6" font-size="9.6" text-anchor="middle" textLength="36.35" lengthAdjust="spacingAndGlyphs" fill="#231f20" stroke="#231f20" stroke-width="0.3">Cisuralian</text>
<text x="359.50" y="1038.0" font-size="6.8" text-anchor="middle" textLength="20.62" lengthAdjust="spacingAndGlyphs" fill="#231f20" stroke="#231f20" stroke-width="0.3">Guada-</text>
<text x="359.25" y="1045.0" font-size="6.8" text-anchor="middle" textLength="16.72" lengthAdjust="spacingAndGlyphs" fill="#231f20" stroke="#231f20" stroke-width="0.3">lupian</text>
<text x="381.50" y="1038.0" font-size="6.8" text-anchor="middle" textLength="16.22" lengthAdjust="spacingAndGlyphs" fill="#231f20" stroke="#231f20" stroke-width="0.3">Lopin-</text>
<text x="381.25" y="1045.0" font-size="6.8" text-anchor="middle" textLength="11.32" lengthAdjust="spacingAndGlyphs" fill="#231f20" stroke="#231f20" stroke-width="0.3">gian</text>
<text transform="translate(400.20,1040.40) rotate(-90)" x="0" y="0" font-size="8.33" font-weight="bold" text-anchor="middle" textLength="21.80" lengthAdjust="spacingAndGlyphs" fill="#231f20">Early</text>
<text transform="translate(424.00,1040.40) rotate(-90)" x="0" y="0" font-size="8.33" font-weight="bold" text-anchor="middle" textLength="25.80" lengthAdjust="spacingAndGlyphs" fill="#231f20">Middle</text>
<text transform="translate(475.20,1041.40) rotate(-90)" x="0" y="0" font-size="8.33" font-weight="bold" text-anchor="middle" textLength="19.00" lengthAdjust="spacingAndGlyphs" fill="#231f20">Late</text>
<text transform="translate(536.60,1040.05) rotate(-90)" x="0" y="0" font-size="9.44" font-weight="bold" text-anchor="middle" textLength="21.83" lengthAdjust="spacingAndGlyphs" fill="#231f20">Early</text>
<text transform="translate(579.60,1040.55) rotate(-90)" x="0" y="0" font-size="7.78" font-weight="bold" text-anchor="middle" textLength="24.43" lengthAdjust="spacingAndGlyphs" fill="#231f20">Middle</text>
<text transform="translate(613.40,1040.55) rotate(-90)" x="0" y="0" font-size="9.17" font-weight="bold" text-anchor="middle" textLength="19.00" lengthAdjust="spacingAndGlyphs" fill="#231f20">Late</text>
<text transform="translate(680.10,1040.35) rotate(-90)" x="0" y="0" font-size="9.44" font-weight="bold" text-anchor="middle" textLength="21.23" lengthAdjust="spacingAndGlyphs" fill="#231f20">Early</text>
<text transform="translate(772.00,1040.55) rotate(-90)" x="0" y="0" font-size="9.17" font-weight="bold" text-anchor="middle" textLength="19.00" lengthAdjust="spacingAndGlyphs" fill="#231f20">Late</text>
<text transform="translate(820.60,1040.60) rotate(-90)" x="0" y="0" font-size="5.56" font-weight="bold" text-anchor="middle" textLength="29.27" lengthAdjust="spacingAndGlyphs" fill="#231f20">Paleocene</text>
<text transform="translate(892.00,1040.60) rotate(-90)" x="0" y="0" font-size="6.94" font-weight="bold" text-anchor="middle" textLength="28.03" lengthAdjust="spacingAndGlyphs" fill="#231f20">Oligocene</text>
<text transform="translate(946.10,1040.35) rotate(-90)" x="0" y="0" font-size="4.31" font-weight="bold" text-anchor="middle" textLength="26.82" lengthAdjust="spacingAndGlyphs" fill="#231f20">Pliocene</text>
<text transform="translate(951.60,1040.25) rotate(-90)" x="0" y="0" font-size="3.75" text-anchor="middle" textLength="27.95" lengthAdjust="spacingAndGlyphs" fill="#231f20">Pleistocene</text>
<text transform="translate(951.80,1070.75) rotate(-90)" x="0" y="0" font-size="4.17" text-anchor="middle" textLength="25.40" lengthAdjust="spacingAndGlyphs" fill="#231f20">Quaternary</text>
<text x="853.75" y="1044.0" font-size="9.5" font-weight="bold" text-anchor="middle" textLength="32.44" lengthAdjust="spacingAndGlyphs" fill="#231f20" stroke="#231f20" stroke-width="0.3">Eocene</text>
<text x="923.30" y="1043.3" font-size="7.5" font-weight="bold" text-anchor="middle" textLength="27.70" lengthAdjust="spacingAndGlyphs" fill="#231f20" stroke="#231f20" stroke-width="0.3">Miocene</text>
<text x="227.95" y="1076.4" font-size="14.4" font-weight="bold" text-anchor="middle" textLength="91.63" lengthAdjust="spacingAndGlyphs" fill="#231f20">Carboniferous</text>
<text x="339.00" y="1076.4" font-size="14.4" font-weight="bold" text-anchor="middle" textLength="52.93" lengthAdjust="spacingAndGlyphs" fill="#231f20">Permian</text>
<text x="449.40" y="1076.4" font-size="14.4" font-weight="bold" text-anchor="middle" textLength="49.73" lengthAdjust="spacingAndGlyphs" fill="#231f20">Triassic</text>
<text x="567.80" y="1076.4" font-size="14.4" font-weight="bold" text-anchor="middle" textLength="55.33" lengthAdjust="spacingAndGlyphs" fill="#231f20">Jurassic</text>
<text x="716.35" y="1076.4" font-size="14.4" font-weight="bold" text-anchor="middle" textLength="72.83" lengthAdjust="spacingAndGlyphs" fill="#231f20">Cretaceous</text>
<text x="857.80" y="1076.4" font-size="14.4" font-weight="bold" text-anchor="middle" textLength="66.93" lengthAdjust="spacingAndGlyphs" fill="#231f20">Paleogene</text>
<text x="925.50" y="1076.4" font-size="14.4" font-weight="bold" text-anchor="middle" textLength="43.93" lengthAdjust="spacingAndGlyphs" fill="#231f20">Neogene</text>
<text x="281.40" y="1115.4" font-size="27.6" font-weight="bold" text-anchor="middle" textLength="133.80" lengthAdjust="spacingAndGlyphs" fill="#231f20">PALEOZOIC</text>
<text x="591.60" y="1115.4" font-size="27.6" font-weight="bold" text-anchor="middle" textLength="127.40" lengthAdjust="spacingAndGlyphs" fill="#231f20">MESOZOIC</text>
<text x="881.60" y="1115.4" font-size="27.6" font-weight="bold" text-anchor="middle" textLength="129.60" lengthAdjust="spacingAndGlyphs" fill="#231f20">CENOZOIC</text>
<rect x="1006.9" y="928.8" width="140.2" height="84.4" rx="9.5" ry="9.5" fill="#fff" stroke="#3a3a3a" stroke-width="1.1"/>
<text x="1076.3" y="973.4" font-size="42" textLength="113" lengthAdjust="spacingAndGlyphs" font-weight="bold" text-anchor="middle" fill="#000">GPTS</text>
<text x="1081.7" y="999.9" font-size="15.6" font-weight="bold" text-anchor="middle" fill="#111">0-350 Myr</text>
<rect x="982.8" y="1036.6" width="186" height="75.5" fill="#fff" stroke="#555" stroke-width="1"/>
<rect x="996.6" y="1044.6" width="17.4" height="14.6" fill="#111"/>
<rect x="996.9" y="1066.6" width="16.9" height="14.2" fill="#fff" stroke="#888" stroke-width="0.9"/>
<rect x="996.6" y="1088.2" width="17.4" height="14.8" fill="url(#hatch2)"/>
<text x="1023.6" y="1056.8" font-size="17.8" fill="#111">Normal</text>
<text x="1023.6" y="1078.5" font-size="17.8" fill="#111">Reverse</text>
<text x="1023.6" y="1100.4" font-size="17.8" fill="#111">Uncertain polarity</text>
</svg>
</body></html>
